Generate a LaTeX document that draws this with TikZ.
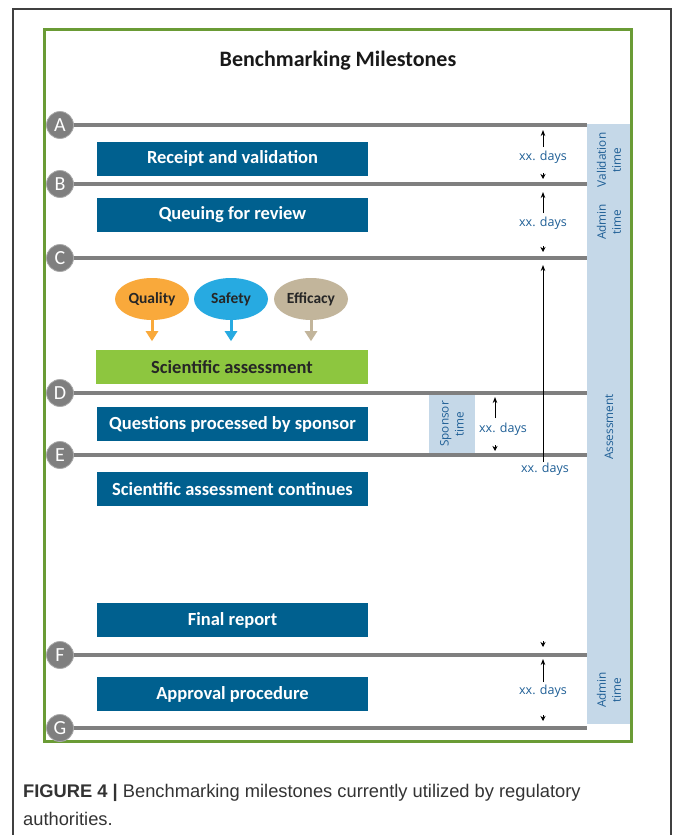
\documentclass[tikz,border=0pt]{standalone}
\usepackage{fontspec}
\setmainfont{Carlito}
\newfontfamily\osans{Open Sans}
\newfontfamily\capfont{Liberation Sans}
\usetikzlibrary{arrows.meta,shapes.geometric}
\definecolor{boxblue}{RGB}{0,96,143}
\definecolor{sciGreen}{RGB}{141,198,63}
\definecolor{colblue}{RGB}{197,216,232}
\definecolor{mgray}{RGB}{127,127,127}
\definecolor{ringgray}{RGB}{170,170,170}
\definecolor{frameGreen}{RGB}{106,155,53}
\definecolor{labblue}{RGB}{31,95,150}
\definecolor{qOrange}{RGB}{249,169,59}
\definecolor{sBlue}{RGB}{39,170,225}
\definecolor{eTan}{RGB}{194,181,155}
\definecolor{capgray}{RGB}{51,51,51}
\tikzset{
  milestone/.style={circle, fill=mgray, draw=ringgray, line width=0.8pt, minimum size=27pt, inner sep=0pt, text=white, font=\fontsize{20}{20}\selectfont},
  mline/.style={draw=mgray, line width=3.5pt},
  bluebox/.style={fill=boxblue, text=white, minimum width=271pt, minimum height=34pt, inner sep=0pt, font=\bfseries\fontsize{18.5}{20}\selectfont},
  greenbox/.style={fill=sciGreen, text=black!85, minimum width=272pt, minimum height=34pt, inner sep=0pt, font=\bfseries\fontsize{18.5}{20}\selectfont},
  blob/.style={ellipse, minimum width=74pt, minimum height=42pt, inner sep=0pt, text=black!85, font=\bfseries\fontsize{15.5}{17}\selectfont},
  blobarrow/.style={line width=3pt, -{Triangle[width=12pt,length=10pt]}},
  days/.style={text=labblue, font=\osans\fontsize{12.5}{14}\selectfont, inner sep=1pt},
  collabel/.style={rotate=90, align=center, text=labblue, font=\osans\fontsize{11.8}{15}\selectfont},
  timearrow/.style={line width=0.9pt, -{Stealth[length=6pt,width=4.5pt]}},
  tickhead/.style={line width=0.6pt, -{Stealth[length=5pt,width=5pt]}},
}
\begin{document}
\begin{tikzpicture}[x=1pt,y=-1pt]
\useasboundingbox (0,0) rectangle (672,835);
\fill[white] (0,0) rectangle (672,835);
% outer frame
\draw[line width=1.2pt, black!75] (13,835) -- (13,9) -- (671,9) -- (671,835);
% right column
\fill[colblue] (587,124) rectangle (630,724);
% green frame
\draw[line width=3pt, frameGreen] (44,29) rectangle (631,741);
% title
\node[text=black!90, font=\bfseries\fontsize{22}{26}\selectfont] (title) at (338,61) {Benchmarking Milestones};
% milestones
\foreach \n/\y in {A/125,B/184,C/258,D/393,E/455,F/655,G/728}{
  \coordinate (\n-end) at (587,\y);
  \draw[mline] (60,\y) -- (\n-end);
  \node[milestone] (\n) at (60,\y) {\n};
}
% boxes
\node[bluebox] (recv) at (232.5,158.5) {Receipt and validation};
\node[bluebox] (queue) at (232.5,215) {Queuing for review};
\node[greenbox] (sci) at (232,367) {Scientific assessment};
\node[bluebox] (quest) at (232.5,424) {Questions processed by sponsor};
\node[bluebox] (cont) at (232.5,489) {Scientific assessment continues};
\node[bluebox] (final) at (232.5,620) {Final report};
\node[bluebox] (appr) at (232.5,694) {Approval procedure};
% ellipses
\node[blob, fill=qOrange] (qual) at (152,299) {Quality};
\node[blob, fill=sBlue] (safe) at (231,299) {Safety};
\node[blob, fill=eTan] (effi) at (311,299) {Efficacy};
\draw[blobarrow, qOrange] (qual.south) -- ++(0,21);
\draw[blobarrow, sBlue] (safe.south) -- ++(0,21);
\draw[blobarrow, eTan] (effi.south) -- ++(0,21);
% column labels
\node[collabel] (vt) at (609,160) {Validation\\time};
\node[collabel] (at1) at (609,222) {Admin\\time};
\node[collabel] (as) at (609,427) {Assessment};
\node[collabel] (at2) at (609,690) {Admin\\time};
% sponsor time
\node[fill=colblue, minimum width=46pt, minimum height=58pt, inner sep=0pt] (spbox) at (452,424) {};
\node[collabel] (sp) at (452,424) {Sponsor\\time};
% A-B
\node[days] (d1) at (543,157) {xx. days};
\coordinate (d1t) at (543,130);
\coordinate (d1b) at (543,179);
\draw[timearrow] (543,147) -- (d1t);
\draw[tickhead] (543,173) -- (d1b);
% B-C
\node[days] (d2) at (543,223) {xx. days};
\coordinate (d2t) at (543,192);
\coordinate (d2b) at (543,252);
\draw[timearrow] (543,213) -- (d2t);
\draw[tickhead] (543,246) -- (d2b);
% C-E long
\node[days, anchor=north] (d3) at (545,462) {xx. days};
\coordinate (d3t) at (543,265);
\draw[timearrow] (543,462) -- (d3t);
% sponsor
\node[days] (d4) at (503,429) {xx. days};
\coordinate (d4t) at (495,397);
\coordinate (d4b) at (495,451);
\draw[timearrow] (495,418) -- (d4t);
\draw[tickhead] (495,445) -- (d4b);
% F-G
\coordinate (d5a) at (543,647);
\draw[tickhead] (543,641) -- (d5a);
\node[days] (d5) at (543,691) {xx. days};
\coordinate (d5t) at (543,659);
\coordinate (d5b) at (543,721);
\draw[timearrow] (543,682) -- (d5t);
\draw[tickhead] (543,715) -- (d5b);
% caption
\node[anchor=north west, align=left, text=capgray, inner sep=0pt, font=\capfont\fontsize{18.3}{28}\selectfont] (cap) at (23,784) {\textbf{FIGURE 4 |} Benchmarking milestones currently utilized by regulatory\\authorities.};
\end{tikzpicture}
\end{document}
